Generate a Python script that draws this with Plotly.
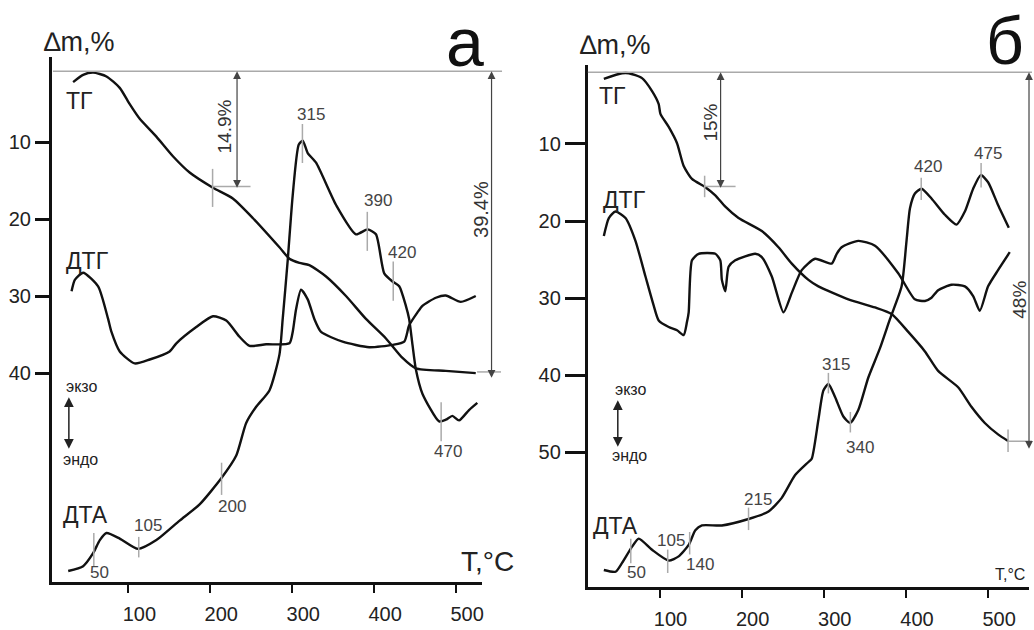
import plotly.graph_objects as go

W, H = 1034, 630
FONT = "Liberation Sans, Arial, sans-serif"

# ---------------- Panel а ----------------
a_tg_T = [32.6, 44.8, 57.0, 73.3, 89.5, 101.7, 113.9, 134.2, 154.4, 174.8, 203.2, 227.5,
          251.9, 284.4, 296.6, 308.8, 320.9, 341.3, 365.6, 390.0, 414.4, 434.6, 450.9, 487.4, 524.0]
a_tg_m = [2.22, 1.29, 0.99, 1.49, 2.97, 5.09, 6.99, 9.30, 11.84, 13.95, 15.92, 17.32,
          19.85, 23.65, 25.13, 25.67, 25.97, 27.44, 29.97, 32.94, 35.47, 38.00, 39.34, 39.68, 39.97]

a_dtg_T = [30.7, 34.7, 44.8, 63.1, 75.3, 79.4, 89.5, 107.8, 126.1, 150.4, 158.6, 182.9, 203.2,
           219.5, 235.7, 247.9, 268.2, 296.6, 300.6, 304.7, 310.8, 318.9, 327.0, 335.2, 361.5,
           394.0, 422.4, 436.7, 442.7, 452.9, 458.9, 475.3, 487.4, 505.7, 524.0]
a_dtg_v = [29.34, 27.87, 26.94, 28.71, 32.94, 34.62, 37.15, 38.71, 38.20, 37.15, 36.10, 33.99, 32.59,
           33.14, 35.25, 36.43, 36.23, 36.10, 34.62, 31.67, 29.14, 30.40, 32.94, 34.62, 35.89,
           36.61, 36.30, 35.89, 33.77, 32.09, 31.24, 30.19, 29.90, 30.73, 29.97]

a_dta_T = [26.6, 44.8, 57.0, 65.2, 73.3, 89.5, 111.8, 134.2, 162.6, 187.0, 213.4, 231.7, 243.8,
           256.0, 272.2, 284.4, 288.4, 294.5, 300.6, 307.9, 312.8, 318.9, 329.1, 353.5, 377.8,
           392.0, 402.2, 412.3, 422.4, 430.6, 438.7, 442.7, 446.8, 450.9, 458.9, 479.3, 487.4,
           495.5, 503.6, 515.8, 525.9]
a_dta_v = [65.63, 65.00, 63.32, 61.62, 60.70, 61.42, 62.76, 61.62, 59.09, 56.99, 53.61, 50.66, 46.43,
           44.33, 42.21, 37.57, 32.94, 25.34, 16.90, 10.35, 9.81, 11.42, 12.68, 18.16, 21.96,
           21.33, 21.96, 27.03, 28.08, 28.71, 31.24, 32.94, 36.30, 39.47, 42.63, 46.23, 46.01,
           45.51, 46.10, 44.75, 43.82]

# ---------------- Panel б ----------------
b_tg_T = [32.2, 54.4, 62.6, 78.7, 90.9, 99.0, 101.1, 111.2, 121.3, 129.4, 139.5, 155.8, 167.9,
          180.1, 196.2, 224.5, 244.8, 261.0, 281.3, 293.4, 329.9, 362.3, 382.5, 402.8, 423.1,
          439.2, 463.5, 479.7, 496.0, 512.1, 524.3]
b_tg_m = [1.56, 0.84, 0.84, 1.47, 3.15, 4.85, 6.11, 7.80, 9.91, 12.86, 14.54, 15.61, 16.66,
          18.14, 19.61, 21.30, 23.40, 25.52, 27.63, 28.47, 30.16, 31.21, 32.06, 34.38, 36.91,
          39.44, 41.56, 44.09, 46.19, 47.67, 48.52]

b_dtg_T = [32.2, 38.3, 46.4, 58.6, 70.7, 82.9, 93.0, 99.0, 111.2, 121.3, 129.4, 133.4, 135.5,
           139.5, 147.6, 167.9, 174.0, 175.9, 180.1, 184.1, 192.2, 216.5, 224.5, 236.7, 250.9,
           261.0, 273.1, 289.4, 309.6, 315.7, 321.7, 342.0, 362.3, 390.6, 410.9, 423.1, 431.1,
           439.2, 455.4, 471.7, 481.8, 489.9, 500.0, 512.1, 526.4]
b_dtg_v = [21.94, 19.61, 18.77, 19.61, 22.57, 27.20, 31.00, 32.90, 33.75, 34.16, 34.80, 33.11, 31.85,
           25.10, 24.25, 24.25, 25.10, 27.63, 29.10, 25.94, 25.10, 24.25, 24.67, 27.20, 31.85,
           29.32, 26.37, 24.89, 25.52, 24.25, 23.40, 22.57, 23.20, 26.78, 30.16, 30.37, 29.95,
           28.97, 28.26, 28.47, 29.73, 31.63, 28.47, 26.37, 24.04]

b_dta_T = [32.2, 46.4, 54.4, 66.6, 74.7, 90.9, 111.2, 123.3, 135.5, 143.6, 151.6, 175.9, 208.4,
           232.7, 248.8, 265.1, 281.3, 285.3, 293.4, 299.5, 305.6, 313.7, 323.8, 332.0, 342.0,
           354.2, 368.4, 380.6, 394.7, 400.7, 404.9, 410.9, 419.0, 431.1, 447.4, 461.5, 471.7,
           481.8, 491.1, 500.0, 512.1, 525.2]
b_dta_v = [65.26, 65.48, 64.34, 62.23, 61.18, 62.64, 64.04, 63.49, 62.01, 60.11, 59.48, 59.48, 58.64,
           57.67, 55.90, 52.95, 51.25, 50.83, 45.77, 41.97, 41.13, 42.82, 45.35, 46.19, 44.51,
           40.29, 36.49, 32.70, 28.47, 22.57, 18.34, 16.44, 15.81, 17.08, 19.19, 20.46, 18.77,
           15.81, 14.04, 14.97, 17.92, 20.87]

x_ticks = [100, 200, 300, 400, 500]
a_y_ticks = [10, 20, 30, 40]
b_y_ticks = [10, 20, 30, 40, 50]


def px(x):
    return min(1.0, max(0.0, x / W))


def py(y):
    return min(1.0, max(0.0, 1 - y / H))


fig = go.Figure()
line_style = dict(color="#111111", width=2.4, shape="spline", smoothing=0.6)
for T, v, xa, ya in [(a_tg_T, a_tg_m, "x", "y"), (a_dtg_T, a_dtg_v, "x", "y"), (a_dta_T, a_dta_v, "x", "y"),
                     (b_tg_T, b_tg_m, "x2", "y2"), (b_dtg_T, b_dtg_v, "x2", "y2"), (b_dta_T, b_dta_v, "x2", "y2")]:
    fig.add_trace(go.Scatter(x=T, y=v, mode="lines", line=line_style, xaxis=xa, yaxis=ya,
                             hoverinfo="skip", showlegend=False))


def xaxis(domain, rng, anchor):
    return dict(domain=domain, range=rng, anchor=anchor, tickvals=x_ticks, showline=True,
                linewidth=3, linecolor="#111", ticks="outside", ticklen=8, tickwidth=2,
                tickcolor="#111", showgrid=False, zeroline=False, ticklabelshift=11,
                ticklabelstandoff=4,
                tickfont=dict(family=FONT, size=20, color="#222"))


def yaxis(domain, rng, anchor, tv, tl):
    return dict(domain=domain, range=rng, anchor=anchor, tickvals=tv, showline=True,
                linewidth=3, linecolor="#111", ticks="outside", ticklen=tl, tickwidth=3,
                tickcolor="#111", showgrid=False, zeroline=False,
                tickfont=dict(family=FONT, size=20, color="#222"))


fig.update_layout(
    width=W, height=H, margin=dict(l=0, r=0, t=0, b=0),
    paper_bgcolor="white", plot_bgcolor="white", showlegend=False,
    xaxis=xaxis([px(52), px(483)], [6.7, 531.7], "y"),
    yaxis=yaxis([py(596), py(58)], [67.03, -1.08], "x", a_y_ticks, 14),
    xaxis2=xaxis([px(589), px(1031)], [12.76, 549.8], "y2"),
    yaxis2=yaxis([py(601), py(67)], [67.42, -0.18], "x2", b_y_ticks, 20),
)


def hline(x0, x1, y, color="#aaaaaa", w=1.5):
    fig.add_shape(type="line", xref="paper", yref="paper", x0=px(x0), x1=px(x1),
                  y0=py(y), y1=py(y), line=dict(color=color, width=w))


def vline(x, y0, y1, color="#aaaaaa", w=1.5):
    fig.add_shape(type="line", xref="paper", yref="paper", x0=px(x), x1=px(x),
                  y0=py(y0), y1=py(y1), line=dict(color=color, width=w))


def darrow(x, y0, y1, color="#444", w=1.2):
    fig.add_annotation(xref="paper", yref="paper", x=px(x), y=py(y0), ax=0, ay=y1 - y0,
                       axref="pixel", ayref="pixel", showarrow=True, arrowhead=2, arrowsize=1.3,
                       arrowside="end+start", arrowwidth=w, arrowcolor=color, text="")


def text(x, y, s, size, color="#222", angle=0):
    fig.add_annotation(xref="paper", yref="paper", x=px(x), y=py(y), text=s, showarrow=False,
                       xanchor="center", yanchor="middle", textangle=angle,
                       font=dict(family=FONT, size=size, color=color))


# ---- panel а decorations ----
hline(53, 503, 73)
darrow(237.5, 73, 191)
hline(213, 251, 191)
vline(213, 173, 212)
darrow(492.5, 73, 381)
hline(478, 502, 381)
text(225, 130, "14.9%", 19, "#333", -90)
text(482, 215, "39.4%", 20, "#333", -90)
for x, y0, y1 in [(303, 127, 167), (368, 217, 257), (394, 268, 308), (442, 412, 452),
                  (222, 474, 507), (139, 550, 571), (94, 546, 580)]:
    vline(x, y0, y1)
for x, y, s in [(312, 117, "315"), (379, 205, "390"), (403, 259, "420"), (449, 463, "470"),
                (232, 519, "200"), (148, 538, "105"), (100, 586, "50")]:
    text(x, y, s, 17, "#444")
text(80, 43, "∆m,%", 27)
text(466, 43, "а", 68, "#111")
text(80, 103, "ТГ", 23)
text(88, 267, "ДТГ", 23)
text(86, 528, "ДТА", 23)
text(82, 396, "экзо", 16)
text(81, 471, "эндо", 16)
darrow(69, 407, 460, "#222", 1.5)
text(488, 575, "T,°C", 28)

# ---- panel б decorations ----
hline(589, 1034, 74)
darrow(722, 74, 191)
hline(706, 737, 191)
vline(706, 180, 202)
darrow(1031, 74, 452)
hline(1010, 1034, 452)
vline(1010, 440, 463)
text(712, 126, "15%", 19, "#333", -90)
text(1022, 307, "48%", 19, "#333", -90)
for x, y0, y1 in [(632, 552, 577), (669, 563, 587), (691, 545, 568), (750, 520, 543),
                  (830, 382, 403), (852, 422, 443), (923, 182, 205), (983, 167, 192)]:
    vline(x, y0, y1)
for x, y, s in [(638, 586, "50"), (672, 554, "105"), (701, 578, "140"), (759, 512, "215"),
                (838, 373, "315"), (862, 458, "340"), (930, 171, "420"), (990, 157, "475")]:
    text(x, y, s, 17, "#444")
text(617, 46, "∆m,%", 27)
text(1007, 42, "б", 66, "#111")
text(614, 98, "ТГ", 23)
text(626, 205, "ДТГ", 23)
text(617, 539, "ДТА", 23)
text(632, 399, "экзо", 16)
text(631, 467, "эндо", 16)
darrow(619, 410, 458, "#222", 1.5)
text(1012, 588, "T,°C", 16)

fig.write_html("out.html")
